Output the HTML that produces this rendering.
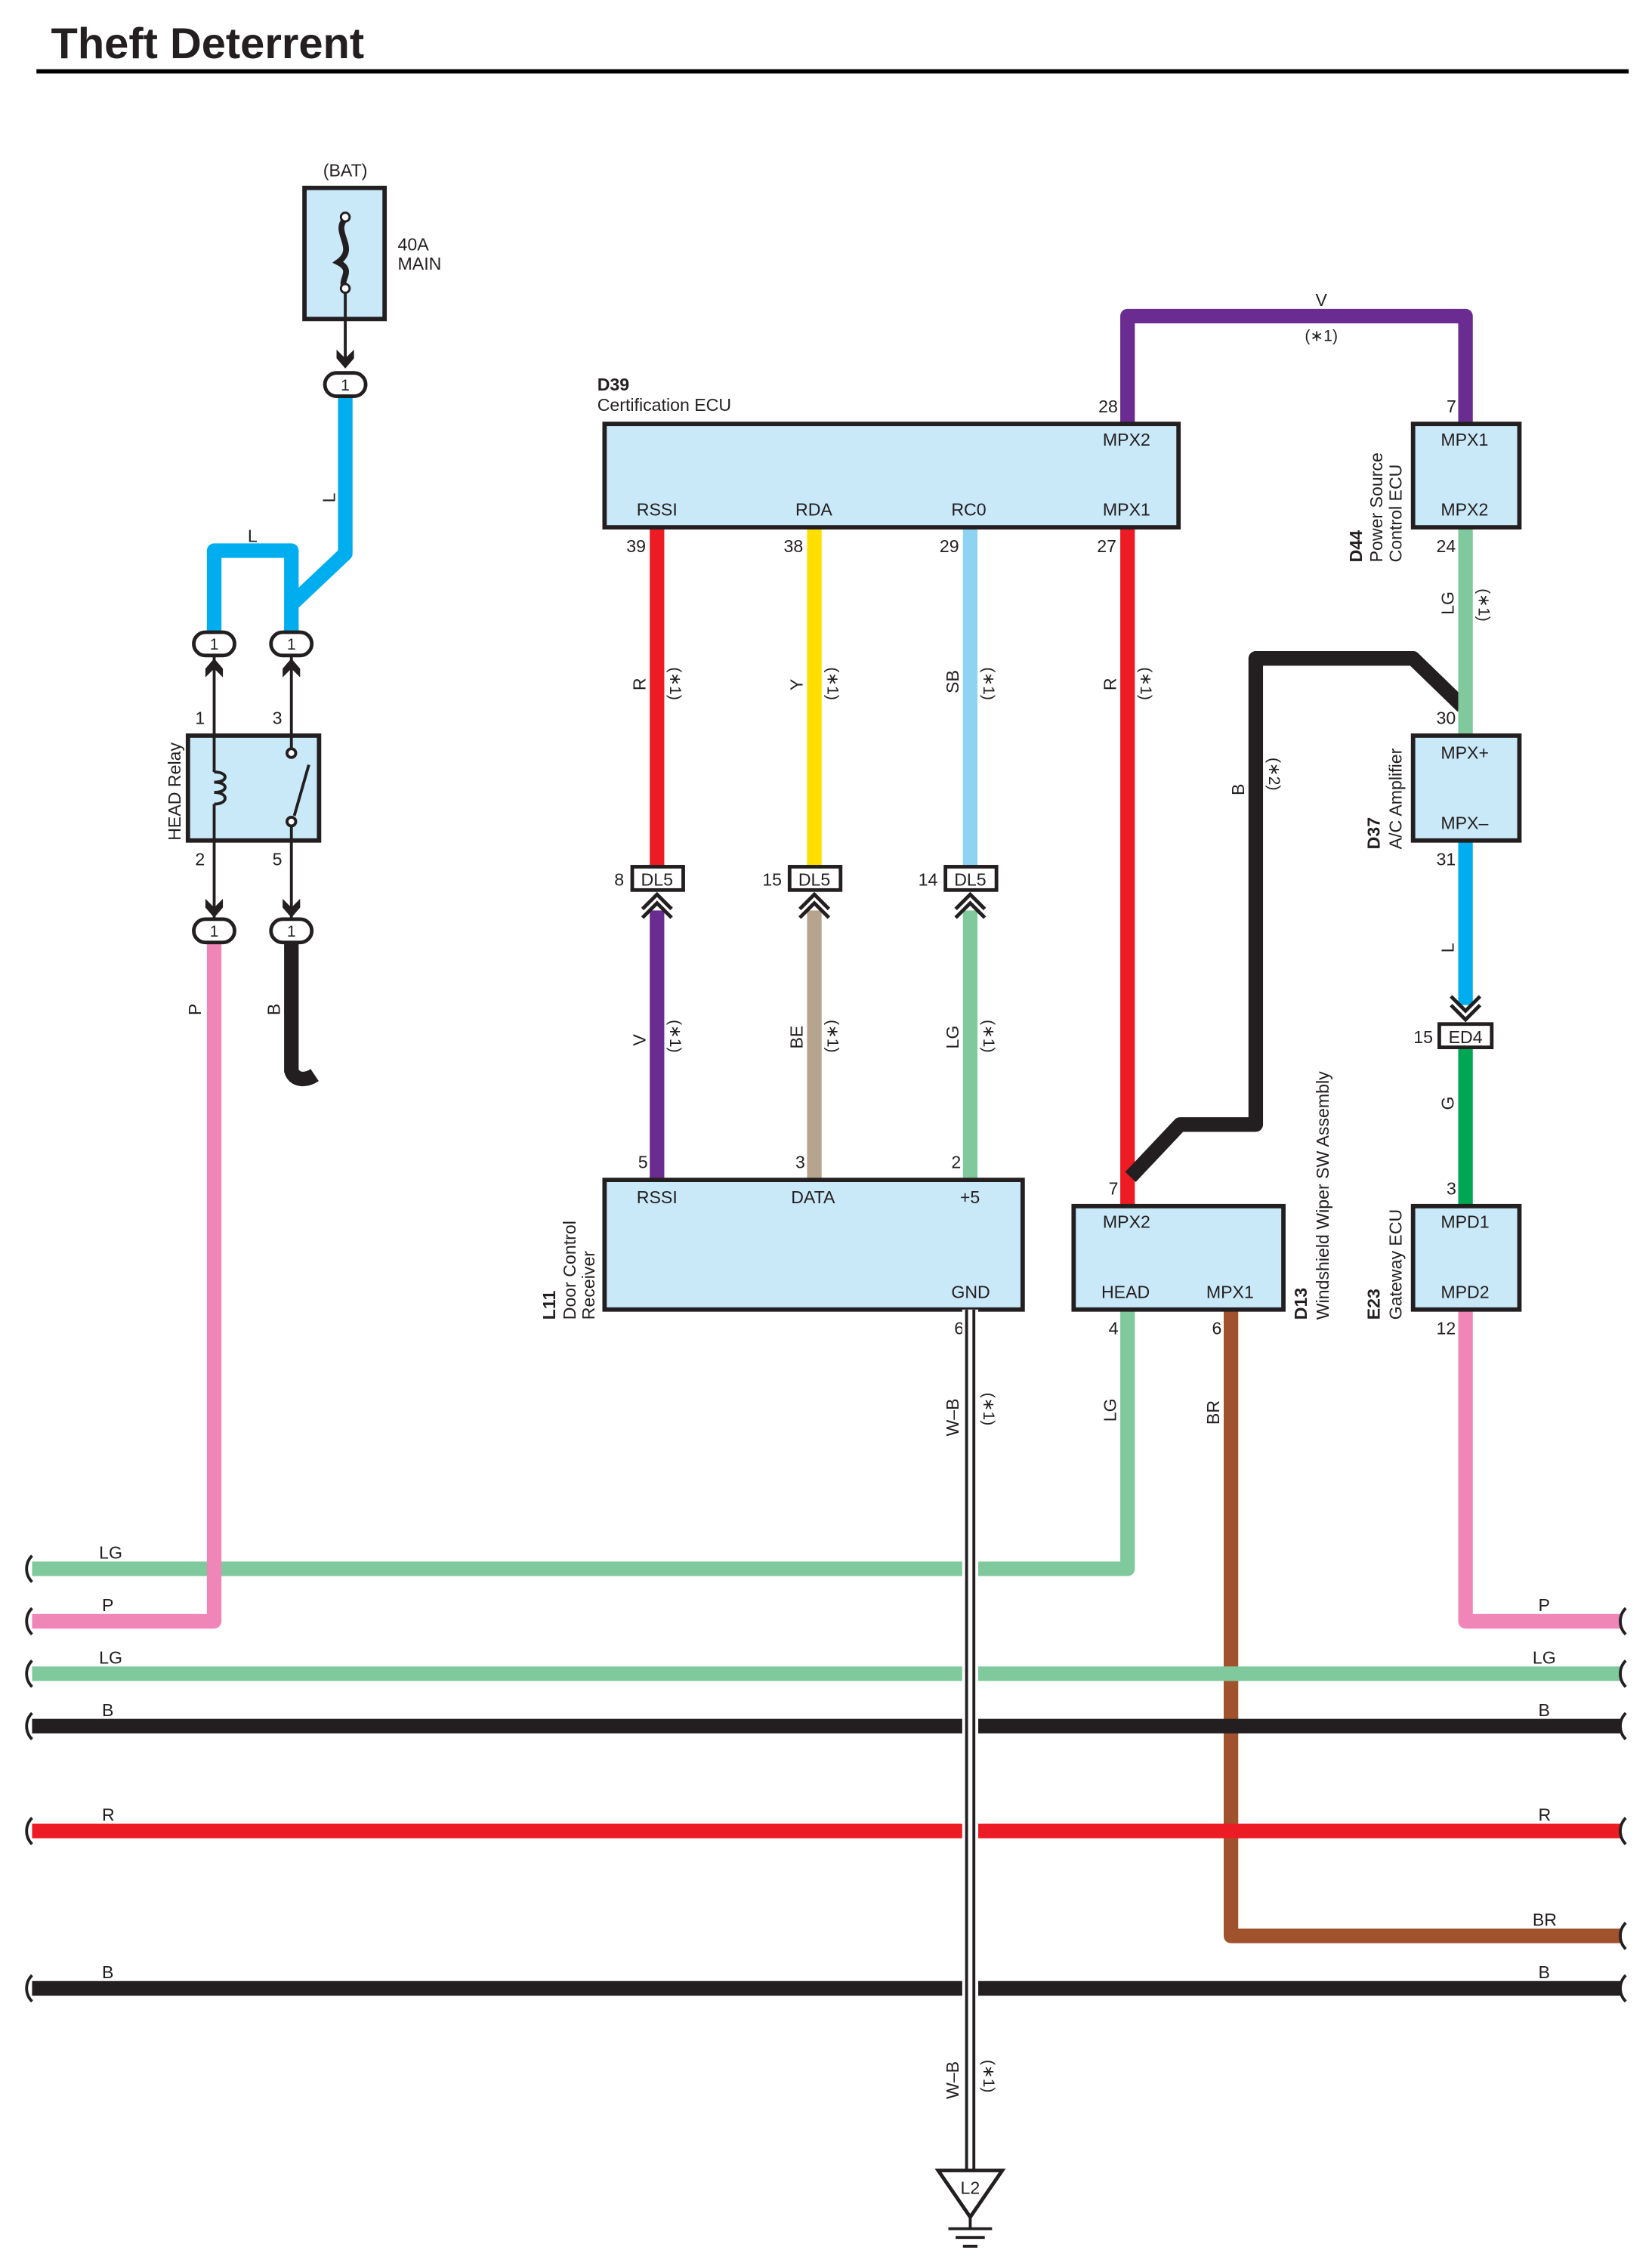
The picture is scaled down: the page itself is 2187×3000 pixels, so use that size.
<!DOCTYPE html>
<html><head><meta charset="utf-8"><style>
html,body{margin:0;padding:0;background:#fff}
svg{display:block}
text{font-family:"Liberation Sans",sans-serif;fill:#231f20}
</style></head><body>
<svg width="2187" height="3000" viewBox="0 0 1134 1555.6" xmlns="http://www.w3.org/2000/svg">
<defs>
<g id="wave"><path d="M0,-9 C-5,-4 -5,4 0,9" fill="none" stroke="#231f20" stroke-width="2"/></g>
</defs>
<text x="35" y="40" font-size="30" font-weight="bold">Theft Deterrent</text>
<line x1="25" y1="49" x2="1118" y2="49" stroke="#000" stroke-width="3"/>

<!-- horizontal bus wires -->
<g fill="none" stroke-linejoin="round">
<polyline points="1113,1329 845,1329 845,899" stroke="#a0522d" stroke-width="10"/>
<polyline points="22,1077 774,1077 774,899" stroke="#80c99d" stroke-width="10"/>
<polyline points="22,1113 147,1113 147,647" stroke="#ef86b7" stroke-width="10"/>
<polyline points="1113,1113 1006,1113 1006,899" stroke="#ef86b7" stroke-width="10"/>
<line x1="22" y1="1149" x2="1113" y2="1149" stroke="#80c99d" stroke-width="10"/>
<line x1="22" y1="1185" x2="1113" y2="1185" stroke="#231f20" stroke-width="10"/>
<line x1="22" y1="1257" x2="1113" y2="1257" stroke="#ed1c24" stroke-width="10"/>
<line x1="22" y1="1365" x2="1113" y2="1365" stroke="#231f20" stroke-width="10"/>
</g>
<g>
<use href="#wave" x="22" y="1077"/><use href="#wave" x="22" y="1113"/><use href="#wave" x="22" y="1149"/><use href="#wave" x="22" y="1185"/><use href="#wave" x="22" y="1257"/><use href="#wave" x="22" y="1365"/>
<use href="#wave" x="1116" y="1113"/><use href="#wave" x="1116" y="1149"/><use href="#wave" x="1116" y="1185"/><use href="#wave" x="1116" y="1257"/><use href="#wave" x="1116" y="1329"/><use href="#wave" x="1116" y="1365"/>
</g>
<g font-size="12">
<text x="68" y="1070">LG</text><text x="70" y="1106">P</text><text x="68" y="1142">LG</text><text x="70" y="1178">B</text><text x="70" y="1250">R</text><text x="70" y="1358">B</text>
<text x="1056" y="1106">P</text><text x="1052" y="1142">LG</text><text x="1056" y="1178">B</text><text x="1056" y="1250">R</text><text x="1052" y="1322">BR</text><text x="1056" y="1358">B</text>
</g>

<!-- BAT fuse -->
<text x="237" y="121" font-size="12" text-anchor="middle">(BAT)</text>
<rect x="209" y="129" width="55" height="90" fill="#c9e8f8" stroke="#231f20" stroke-width="3"/>
<path d="M237,150 C228,160 246,170 232,180 C244,186 232,192 237,198" fill="none" stroke="#231f20" stroke-width="4"/>
<circle cx="237" cy="149" r="3" fill="#fff" stroke="#231f20" stroke-width="1.5"/>
<circle cx="237" cy="198" r="3" fill="#fff" stroke="#231f20" stroke-width="1.5"/>
<line x1="237" y1="201" x2="237" y2="252" stroke="#231f20" stroke-width="2"/>
<text x="273" y="172" font-size="12">40A</text><text x="273" y="185" font-size="12">MAIN</text>

<!-- blue L wires -->
<polyline points="237,272 237,380 200,415 200,435" fill="none" stroke="#00aeef" stroke-width="10" stroke-linejoin="round"/>
<polyline points="147,435 147,378 200,378 200,415" fill="none" stroke="#00aeef" stroke-width="10" stroke-linejoin="round"/>
<text x="230" y="345" font-size="12" transform="rotate(-90 230 345)">L</text>
<text x="170" y="372" font-size="12">L</text>

<!-- relay -->
<rect x="129" y="505" width="90" height="72" fill="#c9e8f8" stroke="#231f20" stroke-width="3"/>
<g stroke="#231f20" stroke-width="2" fill="none">
<line x1="147" y1="450" x2="147" y2="530"/><line x1="147" y1="552" x2="147" y2="632"/>
<path d="M147,530 c10,0 10,7 0,7 c10,0 10,7 0,7 c10,0 10,8 0,8"/>
<line x1="200" y1="450" x2="200" y2="514"/><line x1="200" y1="566" x2="200" y2="632"/>
<line x1="202" y1="560" x2="212" y2="525"/>
</g>
<circle cx="200" cy="517" r="3" fill="#fff" stroke="#231f20" stroke-width="2"/>
<circle cx="200" cy="564" r="3" fill="#fff" stroke="#231f20" stroke-width="2"/>
<text x="124" y="577" font-size="12" transform="rotate(-90 124 577)">HEAD Relay</text>
<g font-size="12"><text x="134" y="497">1</text><text x="187" y="497">3</text><text x="134" y="594">2</text><text x="187" y="594">5</text></g>

<!-- arrows -->
<g fill="#231f20">
<path d="M231,240 l6,6 l6,-6 l0,6 l-6,7 l-6,-7z"/>
<path d="M141,465 l6,-6 l6,6 l0,-6 l-6,-7 l-6,7z"/>
<path d="M194,465 l6,-6 l6,6 l0,-6 l-6,-7 l-6,7z"/>
<path d="M141,617 l6,6 l6,-6 l0,6 l-6,7 l-6,-7z"/>
<path d="M194,617 l6,6 l6,-6 l0,6 l-6,7 l-6,-7z"/>
</g>
<!-- oval connectors -->
<g font-size="11" text-anchor="middle">
<rect x="223" y="256" width="28" height="16" rx="8" fill="#fff" stroke="#231f20" stroke-width="2.5"/><text x="237" y="268">1</text>
<rect x="133" y="434" width="28" height="16" rx="8" fill="#fff" stroke="#231f20" stroke-width="2.5"/><text x="147" y="446">1</text>
<rect x="186" y="434" width="28" height="16" rx="8" fill="#fff" stroke="#231f20" stroke-width="2.5"/><text x="200" y="446">1</text>
<rect x="133" y="631" width="28" height="16" rx="8" fill="#fff" stroke="#231f20" stroke-width="2.5"/><text x="147" y="643">1</text>
<rect x="186" y="631" width="28" height="16" rx="8" fill="#fff" stroke="#231f20" stroke-width="2.5"/><text x="200" y="643">1</text>
</g>
<!-- B wire from relay -->
<path d="M200,647 L200,735 C202,742 210,742 216,738" fill="none" stroke="#231f20" stroke-width="10"/>
<text x="138" y="697" font-size="12" transform="rotate(-90 138 697)">P</text>
<text x="192" y="697" font-size="12" transform="rotate(-90 192 697)">B</text>

<!-- D39 wires -->
<g fill="none" stroke-width="10" stroke-linejoin="round">
<polyline points="774,291 774,217 1006,217 1006,291" stroke="#6b2c91"/>
<line x1="451" y1="362" x2="451" y2="596" stroke="#ed1c24"/>
<line x1="559" y1="362" x2="559" y2="596" stroke="#ffde00"/>
<line x1="666" y1="362" x2="666" y2="596" stroke="#8fd3f3"/>
<line x1="774" y1="362" x2="774" y2="828" stroke="#ed1c24"/>
<line x1="451" y1="625" x2="451" y2="810" stroke="#6b2c91"/>
<line x1="559" y1="625" x2="559" y2="810" stroke="#b7a48e"/>
<line x1="666" y1="625" x2="666" y2="810" stroke="#80c99d"/>
<polyline points="776,808 810,772 862,772 862,452 970,452 1004,485" stroke="#231f20"/>
<line x1="1006" y1="362" x2="1006" y2="505" stroke="#80c99d"/>
<line x1="1006" y1="577" x2="1006" y2="690" stroke="#00aeef"/>
<line x1="1006" y1="719" x2="1006" y2="828" stroke="#00a651"/>
</g>
<text x="907" y="210" font-size="12" text-anchor="middle">V</text>
<text x="907" y="234" font-size="11" text-anchor="middle">(∗1)</text>

<rect x="415" y="291" width="394" height="71" fill="#c9e8f8" stroke="#231f20" stroke-width="3"/>
<text x="410" y="268" font-size="12" font-weight="bold">D39</text>
<text x="410" y="282" font-size="12">Certification ECU</text>
<g font-size="12">
<text x="757" y="306">MPX2</text><text x="437" y="354">RSSI</text><text x="546" y="354">RDA</text><text x="653" y="354">RC0</text><text x="757" y="354">MPX1</text>
<text x="754" y="283">28</text><text x="430" y="379">39</text><text x="538" y="379">38</text><text x="645" y="379">29</text><text x="753" y="379">27</text>
</g>
<!-- vertical labels -->
<g font-size="12">
<text x="443" y="474" transform="rotate(-90 443 474)">R</text>
<text x="551" y="474" transform="rotate(-90 551 474)">Y</text>
<text x="658" y="476" transform="rotate(-90 658 476)">SB</text>
<text x="766" y="474" transform="rotate(-90 766 474)">R</text>
<text x="443" y="718" transform="rotate(-90 443 718)">V</text>
<text x="551" y="720" transform="rotate(-90 551 720)">BE</text>
<text x="658" y="720" transform="rotate(-90 658 720)">LG</text>
<text x="854" y="546" transform="rotate(-90 854 546)">B</text>
<text x="998" y="422" transform="rotate(-90 998 422)">LG</text>
<text x="998" y="654" transform="rotate(-90 998 654)">L</text>
<text x="998" y="762" transform="rotate(-90 998 762)">G</text>
<text x="658" y="986" transform="rotate(-90 658 986)">W–B</text>
<text x="766" y="976" transform="rotate(-90 766 976)">LG</text>
<text x="837" y="978" transform="rotate(-90 837 978)">BR</text>
<text x="658" y="1441" transform="rotate(-90 658 1441)">W–B</text>
</g>
<g font-size="11">
<text x="460" y="482" transform="rotate(90 460 482) translate(-24 0)">(∗1)</text>
<text x="568" y="482" transform="rotate(90 568 482) translate(-24 0)">(∗1)</text>
<text x="675" y="482" transform="rotate(90 675 482) translate(-24 0)">(∗1)</text>
<text x="783" y="482" transform="rotate(90 783 482) translate(-24 0)">(∗1)</text>
<text x="460" y="724" transform="rotate(90 460 724) translate(-24 0)">(∗1)</text>
<text x="568" y="724" transform="rotate(90 568 724) translate(-24 0)">(∗1)</text>
<text x="675" y="724" transform="rotate(90 675 724) translate(-24 0)">(∗1)</text>
<text x="871" y="544" transform="rotate(90 871 544) translate(-24 0)">(∗2)</text>
<text x="1015" y="428" transform="rotate(90 1015 428) translate(-24 0)">(∗1)</text>
<text x="675" y="980" transform="rotate(90 675 980) translate(-24 0)">(∗1)</text>
<text x="675" y="1438" transform="rotate(90 675 1438) translate(-24 0)">(∗1)</text>
</g>

<!-- DL5 connectors -->
<g font-size="12" text-anchor="middle">
<rect x="434" y="595" width="35" height="16" fill="#fff" stroke="#231f20" stroke-width="2.5"/><text x="451" y="608">DL5</text>
<rect x="542" y="595" width="35" height="16" fill="#fff" stroke="#231f20" stroke-width="2.5"/><text x="559" y="608">DL5</text>
<rect x="649" y="595" width="35" height="16" fill="#fff" stroke="#231f20" stroke-width="2.5"/><text x="666" y="608">DL5</text>
<rect x="988" y="703" width="36" height="16" fill="#fff" stroke="#231f20" stroke-width="2.5"/><text x="1006" y="716">ED4</text>
<text x="425" y="608">8</text><text x="530" y="608">15</text><text x="637" y="608">14</text><text x="977" y="716">15</text>
</g>
<g fill="none" stroke="#231f20" stroke-width="2.5">
<path d="M441,624 l10,-10 l10,10 M441,630 l10,-10 l10,10"/>
<path d="M549,624 l10,-10 l10,10 M549,630 l10,-10 l10,10"/>
<path d="M656,624 l10,-10 l10,10 M656,630 l10,-10 l10,10"/>
<path d="M996,684 l10,10 l10,-10 M996,690 l10,10 l10,-10"/>
</g>

<!-- D44 -->
<rect x="970" y="291" width="73" height="71" fill="#c9e8f8" stroke="#231f20" stroke-width="3"/>
<g font-size="12"><text x="989" y="306">MPX1</text><text x="989" y="354">MPX2</text><text x="993" y="283">7</text><text x="986" y="379">24</text></g>
<text x="935" y="386" font-size="12" font-weight="bold" transform="rotate(-90 935 386)">D44</text>
<text x="949" y="386" font-size="12" transform="rotate(-90 949 386)">Power Source</text>
<text x="962" y="386" font-size="12" transform="rotate(-90 962 386)">Control ECU</text>

<!-- D37 -->
<rect x="970" y="505" width="73" height="72" fill="#c9e8f8" stroke="#231f20" stroke-width="3"/>
<g font-size="12"><text x="989" y="521">MPX+</text><text x="989" y="569">MPX–</text><text x="986" y="497">30</text><text x="986" y="594">31</text></g>
<text x="947" y="583" font-size="12" font-weight="bold" transform="rotate(-90 947 583)">D37</text>
<text x="962" y="583" font-size="12" transform="rotate(-90 962 583)">A/C Amplifier</text>

<!-- E23 -->
<rect x="970" y="828" width="73" height="71" fill="#c9e8f8" stroke="#231f20" stroke-width="3"/>
<g font-size="12"><text x="989" y="843">MPD1</text><text x="989" y="891">MPD2</text><text x="993" y="820">3</text><text x="986" y="916">12</text></g>
<text x="947" y="906" font-size="12" font-weight="bold" transform="rotate(-90 947 906)">E23</text>
<text x="962" y="906" font-size="12" transform="rotate(-90 962 906)">Gateway ECU</text>

<!-- L11 -->
<rect x="415" y="810" width="287" height="89" fill="#c9e8f8" stroke="#231f20" stroke-width="3"/>
<g font-size="12"><text x="437" y="826">RSSI</text><text x="543" y="826">DATA</text><text x="659" y="826">+5</text><text x="653" y="891">GND</text>
<text x="438" y="802">5</text><text x="546" y="802">3</text><text x="653" y="802">2</text><text x="655" y="916">6</text></g>
<text x="381" y="906" font-size="12" font-weight="bold" transform="rotate(-90 381 906)">L11</text>
<text x="395" y="906" font-size="12" transform="rotate(-90 395 906)">Door Control</text>
<text x="408" y="906" font-size="12" transform="rotate(-90 408 906)">Receiver</text>

<!-- D13 -->
<rect x="737" y="828" width="144" height="71" fill="#c9e8f8" stroke="#231f20" stroke-width="3"/>
<g font-size="12"><text x="757" y="843">MPX2</text><text x="756" y="891">HEAD</text><text x="828" y="891">MPX1</text>
<text x="761" y="820">7</text><text x="761" y="916">4</text><text x="832" y="916">6</text></g>
<text x="897" y="906" font-size="12" font-weight="bold" transform="rotate(-90 897 906)">D13</text>
<text x="912" y="906" font-size="12" transform="rotate(-90 912 906)">Windshield Wiper SW Assembly</text>

<!-- W-B shielded ground wire -->
<line x1="666" y1="899" x2="666" y2="1490" stroke="#fff" stroke-width="11"/>
<line x1="666" y1="899" x2="666" y2="1490" stroke="#231f20" stroke-width="7"/>
<line x1="666" y1="899" x2="666" y2="1490" stroke="#fff" stroke-width="3"/>
<path d="M644,1490 L688,1490 L666,1522 Z" fill="#fff" stroke="#231f20" stroke-width="2.5"/>
<text x="666" y="1506" font-size="12" text-anchor="middle">L2</text>
<g stroke="#231f20" stroke-width="2">
<line x1="666" y1="1522" x2="666" y2="1530"/>
<line x1="651" y1="1530" x2="681" y2="1530"/>
<line x1="656" y1="1536" x2="676" y2="1536"/>
<line x1="661" y1="1542" x2="671" y2="1542"/>
</g>
</svg>
</body></html>
